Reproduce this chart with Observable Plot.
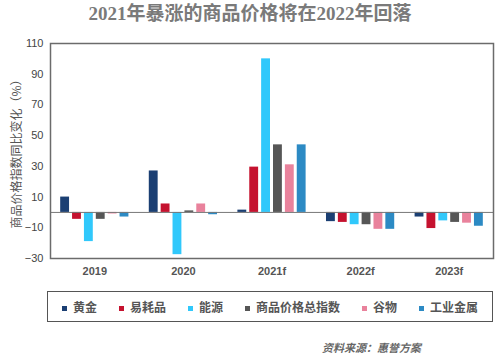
<!DOCTYPE html>
<html><head><meta charset="utf-8">
<script src="https://cdn.jsdelivr.net/npm/d3@7"></script>
<script src="https://cdn.jsdelivr.net/npm/@observablehq/plot@0.6"></script>
<style>
body{margin:0;background:#fff;width:500px;height:358px;overflow:hidden;font-family:"Noto Sans CJK SC",sans-serif;}
#title{height:28px;line-height:28px;text-align:center;font-family:"Liberation Serif","Noto Sans CJK SC",serif;font-weight:bold;font-size:19px;color:#7a7a7a;}
#legend{position:absolute;left:47px;top:291px;width:444px;height:29px;border:1.5px solid #555;display:flex;align-items:center;justify-content:center;gap:22px;font-size:12px;font-weight:bold;color:#555;}
#legend span.sw{display:inline-block;width:5px;height:5px;margin-right:6px;vertical-align:middle;}
#caption{position:absolute;left:322px;top:339px;font-size:11px;font-weight:bold;font-style:italic;color:#666;}
</style></head>
<body>
<div id="title">2021年暴涨的商品价格将在2022年回落</div>
<div id="chart"></div>
<div id="legend"></div>
<div id="caption">资料来源：惠誉方案</div>
<script>
const years = ["2019", "2020", "2021f", "2022f", "2023f"];
const seriesNames = ["黄金", "易耗品", "能源", "商品价格总指数", "谷物", "工业金属"];
const seriesColors = ["#1b3f73", "#c5122f", "#30c8fb", "#565656", "#e9829c", "#2c8ac4"];
const gold = [10, 27, 1.5, -6, -3];
const consumables = [-4.5, 5.5, 29.5, -6.5, -10.5];
const energy = [-19, -27.5, 100, -8, -5.5];
const priceIndex = [-4.5, 1, 44, -8, -6.5];
const grains = [-1, 5.5, 31, -11, -7];
const metals = [-3, -1.5, 44, -11, -9];
const yTicks = [-30, -10, 10, 30, 50, 70, 90, 110];

const seriesValues = [gold, consumables, energy, priceIndex, grains, metals];
const step = 0.134, barW = 0.1;
const data = [];
seriesValues.forEach((vals, j) => {
  vals.forEach((v, i) => {
    const c = i + (j - 2.5) * step;
    data.push({year: years[i], series: seriesNames[j], value: v, x1: c - barW / 2, x2: c + barW / 2});
  });
});

const chart = Plot.plot({
  width: 500,
  height: 252,
  marginTop: 15,
  marginLeft: 50,
  marginRight: 7,
  marginBottom: 22,
  style: {fontFamily: "Liberation Sans, Arial, sans-serif", fontSize: "11px", color: "#444", background: "#fff"},
  x: {domain: [-0.5, 4.5], ticks: d3.range(years.length), tickFormat: i => years[i], tickSize: 0, tickPadding: 9, label: null},
  y: {domain: [-30, 110], ticks: yTicks, tickSize: 0, tickPadding: 7, label: "商品价格指数同比变化（%）", labelArrow: "none", labelAnchor: "center", labelOffset: 38},
  color: {domain: seriesNames, range: seriesColors},
  marks: [
    Plot.rectY(data, {x1: "x1", x2: "x2", y: "value", fill: "series"}),
    Plot.ruleY([0], {stroke: "#777", strokeWidth: 1}),
    Plot.frame({stroke: "#6b6b6b", strokeWidth: 1.5})
  ]
});
document.getElementById("chart").appendChild(chart);
d3.select(chart).selectAll("[aria-label='y-axis label'] text, [aria-label='y-axis label']")
  .style("font-family", "Noto Sans CJK SC").style("font-size", "12px").attr("fill", "#555");
d3.select(chart).selectAll("[aria-label='x-axis tick label'] text").style("font-weight", "bold").attr("fill", "#555");

const legend = d3.select("#legend");
seriesNames.forEach((n, j) => {
  const item = legend.append("div");
  item.append("span").attr("class", "sw").style("background", seriesColors[j]);
  item.append("span").text(n);
});
</script>
</body></html>
